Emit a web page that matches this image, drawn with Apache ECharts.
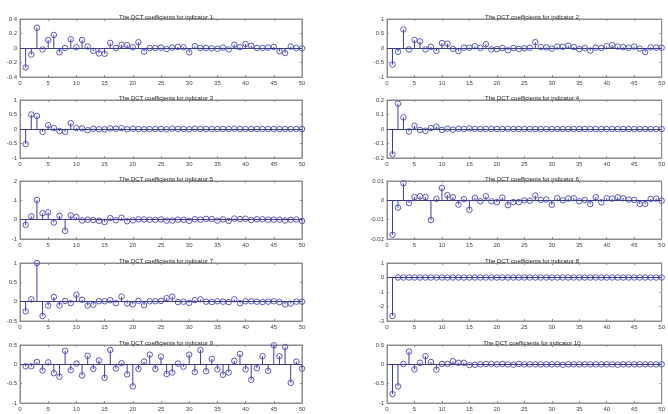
<!DOCTYPE html>
<html>
<head>
<meta charset="utf-8">
<script src="https://cdn.jsdelivr.net/npm/echarts@6/dist/echarts.min.js"></script>
<style>
html,body{margin:0;padding:0;background:#fff;}
#chart{width:668px;height:414px;}
</style>
</head>
<body>
<div id="chart"></div>
<script>
// ---- data (DCT coefficients, index 1..50) ----
const titles = [
  "The DCT coefficients for indicator 1","The DCT coefficients for indicator 2",
  "The DCT coefficients for indicator 3","The DCT coefficients for indicator 4",
  "The DCT coefficients for indicator 5","The DCT coefficients for indicator 6",
  "The DCT coefficients for indicator 7","The DCT coefficients for indicator 8",
  "The DCT coefficients for indicator 9","The DCT coefficients for indicator 10"
];
const ind1 = [-0.27,-0.09,0.28,-0.02,0.11,0.18,-0.06,0.0,0.12,0.01,0.11,0.02,-0.04,-0.075,-0.08,0.07,0.0,0.045,0.04,0.01,
  0.08,-0.05,0.0,0.0,0.005,-0.015,0.005,0.015,0.01,-0.06,0.025,0.0,0.0,-0.005,-0.01,0.005,-0.02,0.045,0.01,0.055,
  0.03,0.0,0.0,0.005,0.015,-0.045,-0.07,0.02,0.0,-0.005];
const ind2 = [-0.57,-0.13,0.64,-0.05,0.28,0.23,-0.05,0.04,-0.1,0.17,0.15,-0.03,-0.11,0.01,0.01,0.06,0.0,0.13,-0.05,-0.04,
  0.0,-0.08,0.0,-0.03,-0.01,0.01,0.2,0.03,0.02,-0.02,0.05,0.04,0.08,0.03,-0.04,0.0,-0.09,0.01,0.0,0.06,
  0.1,0.05,0.03,0.01,0.05,-0.02,-0.14,0.02,0.01,0.01];
const ind3 = [-0.52,0.5,0.45,-0.1,0.13,0.03,-0.07,-0.1,0.2,0.03,0.02,-0.04,0.01,-0.01,-0.01,0.02,0.01,0.03,-0.01,0.01,
  0.0,-0.01,0.0,0.0,0.0,-0.01,0.01,0.0,0.0,-0.01,0.01,0.0,0.0,0.0,0.0,0.0,0.0,0.01,0.0,0.0,
  0.0,0.0,0.0,0.0,0.0,0.0,0.0,0.0,0.0,0.0];
const ind4 = [-0.175,0.175,0.08,-0.017,0.022,-0.007,-0.012,0.007,0.016,-0.006,0.002,-0.004,0.002,0.0,0.004,0.001,0.0,0.0,0.001,0.0,
  0.0,0.001,0.0,0.0,0.0,0.0,0.0,0.0,0.0,0.0,0.0,0.0,0.0,0.0,0.0,0.0,0.0,0.0,0.0,0.0,
  0.0,0.0,0.0,0.0,0.0,0.0,0.0,0.0,0.0,0.0];
const ind5 = [-0.27,0.17,1.02,0.33,0.38,-0.15,0.2,-0.58,0.22,0.14,-0.04,0.0,-0.02,-0.06,-0.12,0.08,-0.03,0.1,-0.08,-0.03,
  0.02,0.01,0.0,-0.01,0.01,-0.05,-0.04,0.0,-0.01,-0.06,0.02,0.0,0.04,0.03,-0.05,0.01,-0.07,0.06,0.03,0.05,
  -0.02,0.02,0.02,0.0,0.0,0.0,-0.04,-0.01,0.01,-0.07];
const ind6 = [-0.0178,-0.0038,0.0088,-0.0014,0.0017,0.0021,0.0017,-0.0102,0.0008,0.0064,0.0027,0.0016,-0.0022,0.0006,-0.0049,0.0012,-0.0005,0.0021,-0.0005,-0.0009,
  0.0014,-0.0025,-0.0009,-0.0009,0.0,-0.0002,0.0025,0.0002,0.0004,-0.0023,0.0011,0.0,0.0009,0.0011,-0.0005,0.0002,-0.0019,0.0016,-0.001,0.0011,
  0.0009,0.0016,0.0011,0.0004,0.0002,-0.0019,-0.0019,0.0007,0.0009,-0.0002];
const ind7 = [-0.25,0.06,1.0,-0.37,-0.1,0.12,-0.1,0.02,-0.04,0.18,0.05,-0.1,-0.08,0.01,0.01,0.04,-0.04,0.13,-0.05,-0.07,
  0.02,-0.09,0.01,0.01,0.02,0.09,0.13,-0.01,0.0,-0.03,0.04,0.06,0.0,-0.01,0.01,0.0,-0.01,0.06,-0.04,0.01,
  0.01,0.0,-0.01,0.0,0.01,-0.01,-0.07,-0.05,0.0,0.0];
const ind8 = [-2.65,0.0,0.0,0.0,0.0,0.0,0.0,0.0,0.0,0.0,0.0,0.0,0.0,0.0,0.0,0.0,0.0,0.0,0.0,0.0,
  0.0,0.0,0.0,0.0,0.0,0.0,0.0,0.0,0.0,0.0,0.0,0.0,0.0,0.0,0.0,0.0,0.0,0.0,0.0,0.0,
  0.0,0.0,0.0,0.0,0.0,0.0,0.0,0.0,0.0,0.0];
const ind9 = [-0.05,-0.05,0.06,-0.16,0.05,-0.23,-0.32,0.35,-0.15,0.02,-0.29,0.22,-0.12,0.1,-0.35,0.37,-0.11,0.03,-0.26,-0.57,
  -0.12,0.07,0.25,-0.12,0.2,-0.25,-0.21,0.02,-0.06,0.25,-0.2,0.37,-0.18,0.14,-0.13,-0.27,-0.21,0.09,0.27,-0.13,
  -0.4,-0.1,0.21,-0.17,0.49,0.21,0.45,-0.48,0.07,-0.11];
const ind10 = [-0.77,-0.57,0.01,0.33,-0.13,0.04,0.21,0.06,-0.14,0.01,0.01,0.08,0.04,0.04,-0.02,-0.01,0.0,0.01,0.01,0.0,
  0.01,0.0,-0.01,0.01,0.0,0.0,0.0,0.0,0.0,0.0,0.0,-0.01,0.0,0.0,0.0,0.0,0.0,0.0,0.0,0.0,
  0.0,-0.01,0.0,0.0,0.0,0.0,0.0,0.0,0.0,0.0];
const indicators = [ind1,ind2,ind3,ind4,ind5,ind6,ind7,ind8,ind9,ind10];
const yMin  = [-0.4,-1,-1,-0.2,-1,-0.02,-0.5,-3,-1,-1];
const yMax  = [ 0.4, 1, 1, 0.2, 2, 0.01, 1, 1, 0.5, 0.5];
const yStep = [ 0.2,0.5,0.5,0.1, 1, 0.01,0.5, 1, 0.5, 0.5];
const xMin = 0, xMax = 50, xStep = 5;

// ---- layout ----
const colLeft = [20, 387];
const colWidth = [282, 280];
const rowTop = [19, 100, 181, 263, 345];
const rowHeight = 58;

const stemColor = '#3a3aa6';
const markColor = '#5656c0';
const baseColor = '#3c3c8c';
const boxColor = '#8c8c8c';
const textColor = '#444';
const font = 'Liberation Sans, Arial, sans-serif';

const grid = [], xAxis = [], yAxis = [], series = [], title = [];
indicators.forEach((vals, i) => {
  const col = i % 2, row = Math.floor(i / 2);
  grid.push({left: colLeft[col], top: rowTop[row], width: colWidth[col], height: rowHeight,
    show: true, borderColor: boxColor, borderWidth: 1, backgroundColor: '#fff', containLabel: false});
  title.push({text: titles[i], left: colLeft[col] + colWidth[col] / 2, top: rowTop[row] - 10,
    textAlign: 'center',
    textStyle: {fontSize: 6, fontWeight: 'normal', color: '#222', fontFamily: font}});
  const baseX = {type: 'value', gridIndex: i, min: xMin, max: xMax, interval: xStep,
    axisLine: {show: true, onZero: false, lineStyle: {color: boxColor, width: 1}},
    axisTick: {show: true, inside: true, length: 2, lineStyle: {color: boxColor}},
    splitLine: {show: false}};
  xAxis.push(Object.assign({}, baseX, {position: 'bottom',
    axisLabel: {show: true, fontSize: 6, color: textColor, margin: 3, fontFamily: font,
      showMinLabel: true, showMaxLabel: true}}));
  xAxis.push(Object.assign({}, baseX, {position: 'top', axisLabel: {show: false}}));
  const baseY = {type: 'value', gridIndex: i, min: yMin[i], max: yMax[i], interval: yStep[i],
    axisLine: {show: true, onZero: false, lineStyle: {color: boxColor, width: 1}},
    axisTick: {show: true, inside: true, length: 2, lineStyle: {color: boxColor}},
    splitLine: {show: false}};
  yAxis.push(Object.assign({}, baseY, {position: 'left',
    axisLabel: {show: true, fontSize: 6, color: textColor, margin: 3, fontFamily: font,
      showMinLabel: true, showMaxLabel: true,
      formatter: v => String(Math.round(v * 1000) / 1000)}}));
  yAxis.push(Object.assign({}, baseY, {position: 'right', axisLabel: {show: false}}));
  const data = vals.map((v, k) => [k + 1, v]);
  series.push({
    type: 'custom', xAxisIndex: 2 * i, yAxisIndex: 2 * i, data: data, silent: true, clip: true,
    renderItem: (params, api) => {
      const x = api.value(0), y = api.value(1);
      const p0 = api.coord([x, 0]), p1 = api.coord([x, y]);
      return {type: 'line', shape: {x1: p0[0], y1: p0[1], x2: p1[0], y2: p1[1]},
        style: {stroke: stemColor, lineWidth: 1}};
    },
    markLine: {silent: true, symbol: 'none', animation: false, label: {show: false},
      lineStyle: {color: baseColor, width: 1, type: 'solid'}, data: [{yAxis: 0}]}
  });
  series.push({
    type: 'scatter', xAxisIndex: 2 * i, yAxisIndex: 2 * i, data: data, silent: true,
    symbol: 'circle', symbolSize: 5.5,
    itemStyle: {color: 'rgba(0,0,0,0)', borderColor: markColor, borderWidth: 1, opacity: 1}
  });
});

const chart = echarts.init(document.getElementById('chart'), null, {renderer: 'canvas'});
chart.setOption({animation: false, backgroundColor: '#fff', title, grid, xAxis, yAxis, series});
</script>
</body>
</html>
